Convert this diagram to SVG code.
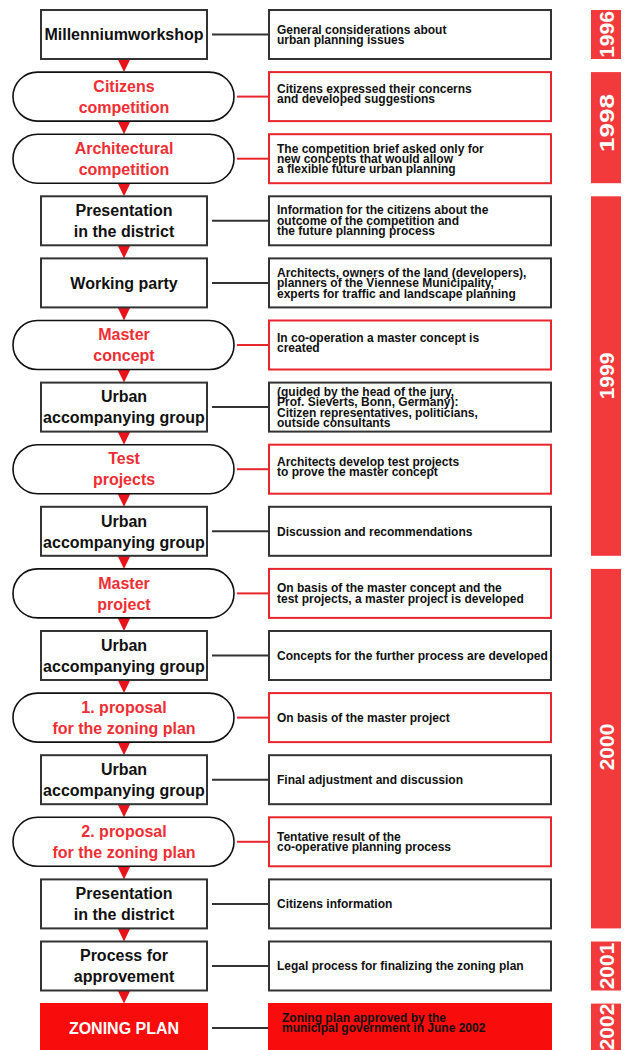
<svg xmlns="http://www.w3.org/2000/svg" width="624" height="1050" viewBox="0 0 624 1050">
<style>
.bx{fill:#fff;stroke:#333;stroke-width:2}
.pl{fill:#fff;stroke:#111;stroke-width:1.6}
.zb{fill:#f80c0c;stroke:none}
.rb{fill:#fff;stroke:#333;stroke-width:2}
.rr{fill:#fff;stroke:#e8262c;stroke-width:2}
.yb{fill:#f23a3c}
.lt{font-family:"Liberation Sans",Arial,sans-serif;font-weight:bold;font-size:16px;text-anchor:middle;fill:#111}
.lr{fill:#ee2e34}
.lw{fill:#fff}
.rt{font-family:"Liberation Sans",Arial,sans-serif;font-weight:bold;font-size:12px;fill:#111}
.yt{font-family:"Liberation Sans",Arial,sans-serif;font-weight:bold;font-size:21px;text-anchor:middle;fill:#fff}
.ck{stroke:#333;stroke-width:2;fill:none}
.cr{stroke:#e8262c;stroke-width:2;fill:none}
.ar{fill:#e8141c}
</style>
<defs>
<polygon id="tri" points="117.5,0 130.5,0 124,13.4"/>
</defs>

<g id="connectors">
<line class="ck" x1="212" y1="34.5" x2="269" y2="34.5"/>
<line class="cr" x1="237" y1="96.6" x2="269" y2="96.6"/>
<line class="cr" x1="237" y1="158.7" x2="269" y2="158.7"/>
<line class="ck" x1="212" y1="220.8" x2="269" y2="220.8"/>
<line class="ck" x1="212" y1="282.9" x2="269" y2="282.9"/>
<line class="cr" x1="237" y1="345" x2="269" y2="345"/>
<line class="ck" x1="212" y1="407.1" x2="269" y2="407.1"/>
<line class="cr" x1="237" y1="469.2" x2="269" y2="469.2"/>
<line class="ck" x1="212" y1="531.3" x2="269" y2="531.3"/>
<line class="cr" x1="237" y1="593.4" x2="269" y2="593.4"/>
<line class="ck" x1="212" y1="655.5" x2="269" y2="655.5"/>
<line class="cr" x1="237" y1="717.6" x2="269" y2="717.6"/>
<line class="ck" x1="212" y1="779.7" x2="269" y2="779.7"/>
<line class="cr" x1="237" y1="841.8" x2="269" y2="841.8"/>
<line class="ck" x1="212" y1="903.9" x2="269" y2="903.9"/>
<line class="ck" x1="212" y1="966" x2="269" y2="966"/>
<line class="ck" x1="212" y1="1028.1" x2="269" y2="1028.1"/>
<use href="#tri" class="ar" y="58.7"/>
<use href="#tri" class="ar" y="120.8"/>
<use href="#tri" class="ar" y="182.9"/>
<use href="#tri" class="ar" y="245"/>
<use href="#tri" class="ar" y="307.1"/>
<use href="#tri" class="ar" y="369.2"/>
<use href="#tri" class="ar" y="431.3"/>
<use href="#tri" class="ar" y="493.4"/>
<use href="#tri" class="ar" y="555.5"/>
<use href="#tri" class="ar" y="617.6"/>
<use href="#tri" class="ar" y="679.7"/>
<use href="#tri" class="ar" y="741.8"/>
<use href="#tri" class="ar" y="803.9"/>
<use href="#tri" class="ar" y="866"/>
<use href="#tri" class="ar" y="928.1"/>
<use href="#tri" class="ar" y="990.2"/>
</g>

<g id="n0">
<rect class="bx" x="41" y="10" width="166" height="49"/>
<text class="lt" x="124" y="40.2">Millenniumworkshop</text>
</g>
<g id="d0">
<rect class="rb" x="269" y="10" width="282" height="49"/>
<text class="rt" x="277"><tspan x="277" y="33.6">General considerations about</tspan><tspan x="277" y="44">urban planning issues</tspan></text>
</g>

<g id="n1">
<rect class="pl" x="13" y="72.1" width="221" height="49" rx="24.5"/>
<text class="lt lr" x="124"><tspan x="124" y="91.8">Citizens</tspan><tspan x="124" y="112.8">competition</tspan></text>
</g>
<g id="d1">
<rect class="rr" x="269" y="72.1" width="282" height="49"/>
<text class="rt" x="277"><tspan x="277" y="93">Citizens expressed their concerns</tspan><tspan x="277" y="103.4">and developed suggestions</tspan></text>
</g>

<g id="n2">
<rect class="pl" x="13" y="134.2" width="221" height="49" rx="24.5"/>
<text class="lt lr" x="124"><tspan x="124" y="153.9">Architectural</tspan><tspan x="124" y="174.9">competition</tspan></text>
</g>
<g id="d2">
<rect class="rr" x="269" y="134.2" width="282" height="49"/>
<text class="rt" x="277"><tspan x="277" y="152.6">The competition brief asked only for</tspan><tspan x="277" y="163">new concepts that would allow</tspan><tspan x="277" y="173.4">a flexible future urban planning</tspan></text>
</g>

<g id="n3">
<rect class="bx" x="41" y="196.3" width="166" height="49"/>
<text class="lt" x="124"><tspan x="124" y="216">Presentation</tspan><tspan x="124" y="237">in the district</tspan></text>
</g>
<g id="d3">
<rect class="rb" x="269" y="196.3" width="282" height="49"/>
<text class="rt" x="277"><tspan x="277" y="214.2">Information for the citizens about the</tspan><tspan x="277" y="224.6">outcome of the competition and</tspan><tspan x="277" y="235">the future planning process</tspan></text>
</g>

<g id="n4">
<rect class="bx" x="41" y="258.4" width="166" height="49"/>
<text class="lt" x="124" y="288.6">Working party</text>
</g>
<g id="d4">
<rect class="rb" x="269" y="258.4" width="282" height="49"/>
<text class="rt" x="277"><tspan x="277" y="276.8">Architects, owners of the land (developers),</tspan><tspan x="277" y="287.2">planners of the Viennese Municipality,</tspan><tspan x="277" y="297.6">experts for traffic and landscape planning</tspan></text>
</g>

<g id="n5">
<rect class="pl" x="13" y="320.5" width="221" height="49" rx="24.5"/>
<text class="lt lr" x="124"><tspan x="124" y="340.2">Master</tspan><tspan x="124" y="361.2">concept</tspan></text>
</g>
<g id="d5">
<rect class="rr" x="269" y="320.5" width="282" height="49"/>
<text class="rt" x="277"><tspan x="277" y="341.6">In co-operation a master concept is</tspan><tspan x="277" y="352">created</tspan></text>
</g>

<g id="n6">
<rect class="bx" x="41" y="382.6" width="166" height="49"/>
<text class="lt" x="124"><tspan x="124" y="402.3">Urban</tspan><tspan x="124" y="423.3">accompanying group</tspan></text>
</g>
<g id="d6">
<rect class="rb" x="269" y="382.6" width="282" height="49"/>
<text class="rt" x="277"><tspan x="277" y="395.8">(guided by the head of the jury,</tspan><tspan x="277" y="406.2">Prof. Sieverts, Bonn, Germany):</tspan><tspan x="277" y="416.6">Citizen representatives, politicians,</tspan><tspan x="277" y="427">outside consultants</tspan></text>
</g>

<g id="n7">
<rect class="pl" x="13" y="444.7" width="221" height="49" rx="24.5"/>
<text class="lt lr" x="124"><tspan x="124" y="464.4">Test</tspan><tspan x="124" y="485.4">projects</tspan></text>
</g>
<g id="d7">
<rect class="rr" x="269" y="444.7" width="282" height="49"/>
<text class="rt" x="277"><tspan x="277" y="465.5">Architects develop test projects</tspan><tspan x="277" y="475.9">to prove the master concept</tspan></text>
</g>

<g id="n8">
<rect class="bx" x="41" y="506.8" width="166" height="49"/>
<text class="lt" x="124"><tspan x="124" y="526.5">Urban</tspan><tspan x="124" y="547.5">accompanying group</tspan></text>
</g>
<g id="d8">
<rect class="rb" x="269" y="506.8" width="282" height="49"/>
<text class="rt" x="277" y="535.6">Discussion and recommendations</text>
</g>

<g id="n9">
<rect class="pl" x="13" y="568.9" width="221" height="49" rx="24.5"/>
<text class="lt lr" x="124"><tspan x="124" y="588.6">Master</tspan><tspan x="124" y="609.6">project</tspan></text>
</g>
<g id="d9">
<rect class="rr" x="269" y="568.9" width="282" height="49"/>
<text class="rt" x="277"><tspan x="277" y="592.3">On basis of the master concept and the</tspan><tspan x="277" y="602.7">test projects, a master project is developed</tspan></text>
</g>

<g id="n10">
<rect class="bx" x="41" y="631" width="166" height="49"/>
<text class="lt" x="124"><tspan x="124" y="650.7">Urban</tspan><tspan x="124" y="671.7">accompanying group</tspan></text>
</g>
<g id="d10">
<rect class="rb" x="269" y="631" width="282" height="49"/>
<text class="rt" x="277" y="659.8">Concepts for the further process are developed</text>
</g>

<g id="n11">
<rect class="pl" x="13" y="693.1" width="221" height="49" rx="24.5"/>
<text class="lt lr" x="124"><tspan x="124" y="712.8">1. proposal</tspan><tspan x="124" y="733.8">for the zoning plan</tspan></text>
</g>
<g id="d11">
<rect class="rr" x="269" y="693.1" width="282" height="49"/>
<text class="rt" x="277" y="721.9">On basis of the master project</text>
</g>

<g id="n12">
<rect class="bx" x="41" y="755.2" width="166" height="49"/>
<text class="lt" x="124"><tspan x="124" y="774.9">Urban</tspan><tspan x="124" y="795.9">accompanying group</tspan></text>
</g>
<g id="d12">
<rect class="rb" x="269" y="755.2" width="282" height="49"/>
<text class="rt" x="277" y="784">Final adjustment and discussion</text>
</g>

<g id="n13">
<rect class="pl" x="13" y="817.3" width="221" height="49" rx="24.5"/>
<text class="lt lr" x="124"><tspan x="124" y="837">2. proposal</tspan><tspan x="124" y="858">for the zoning plan</tspan></text>
</g>
<g id="d13">
<rect class="rr" x="269" y="817.3" width="282" height="49"/>
<text class="rt" x="277"><tspan x="277" y="840.9">Tentative result of the</tspan><tspan x="277" y="851.3">co-operative planning process</tspan></text>
</g>

<g id="n14">
<rect class="bx" x="41" y="879.4" width="166" height="49"/>
<text class="lt" x="124"><tspan x="124" y="899.1">Presentation</tspan><tspan x="124" y="920.1">in the district</tspan></text>
</g>
<g id="d14">
<rect class="rb" x="269" y="879.4" width="282" height="49"/>
<text class="rt" x="277" y="908.2">Citizens information</text>
</g>

<g id="n15">
<rect class="bx" x="41" y="941.5" width="166" height="49"/>
<text class="lt" x="124"><tspan x="124" y="961.2">Process for</tspan><tspan x="124" y="982.2">approvement</tspan></text>
</g>
<g id="d15">
<rect class="rb" x="269" y="941.5" width="282" height="49"/>
<text class="rt" x="277" y="970.3">Legal process for finalizing the zoning plan</text>
</g>

<g id="n16">
<rect class="zb" x="40" y="1003" width="168" height="50"/>
<text class="lt lw" x="124" y="1034">ZONING PLAN</text>
</g>
<g id="d16">
<rect class="zb" x="268" y="1003" width="284" height="50"/>
<text class="rt lw" x="282"><tspan x="282" y="1022">Zoning plan approved by the</tspan><tspan x="282" y="1032.4">municipal government in June 2002</tspan></text>
</g>

<g id="years">
<rect class="yb" x="591" y="10" width="30" height="49"/>
<text class="yt" transform="translate(613.5,34.5) rotate(-90)">1996</text>
<rect class="yb" x="591" y="72.1" width="30" height="111.1"/>
<text class="yt" transform="translate(613.5,123) rotate(-90)" textLength="58" lengthAdjust="spacingAndGlyphs">1998</text>
<rect class="yb" x="591" y="196.3" width="30" height="359.5"/>
<text class="yt" transform="translate(613.5,376) rotate(-90)">1999</text>
<rect class="yb" x="591" y="568.9" width="30" height="359.5"/>
<text class="yt" transform="translate(613.5,747) rotate(-90)">2000</text>
<rect class="yb" x="591" y="941.5" width="30" height="49"/>
<text class="yt" transform="translate(613.5,966) rotate(-90)">2001</text>
<rect class="yb" x="591" y="1003.6" width="30" height="50"/>
<text class="yt" transform="translate(613.5,1027) rotate(-90)">2002</text>
</g>
</svg>
